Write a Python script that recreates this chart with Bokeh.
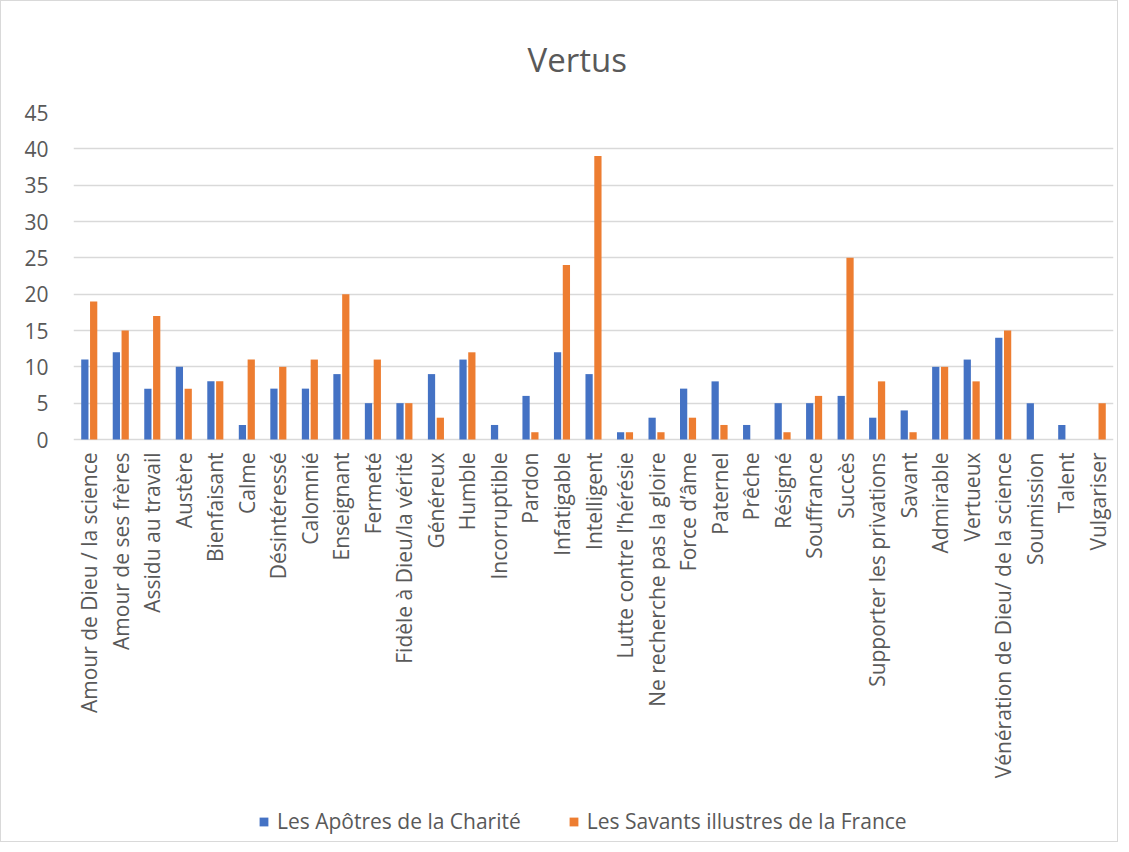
from bokeh.plotting import figure
from bokeh.models import ColumnDataSource, FactorRange, Range1d, Legend, LegendItem, Title
from bokeh.core.properties import value
from bokeh.transform import dodge
from bokeh.embed import file_html
from bokeh.resources import INLINE
import math

categories = [
    "Amour de Dieu / la science", "Amour de ses frères", "Assidu au travail", "Austère",
    "Bienfaisant", "Calme", "Désintéressé", "Calomnié", "Enseignant", "Fermeté",
    "Fidèle à Dieu/la vérité", "Généreux", "Humble", "Incorruptible", "Pardon",
    "Infatigable", "Intelligent", "Lutte contre l\u2019hérésie", "Ne recherche pas la gloire",
    "Force d\u2019âme", "Paternel", "Prêche", "Résigné", "Souffrance", "Succès",
    "Supporter les privations", "Savant", "Admirable", "Vertueux",
    "Vénération de Dieu/ de la science", "Soumission", "Talent", "Vulgariser",
]
apotres = [11, 12, 7, 10, 8, 2, 7, 7, 9, 5, 5, 9, 11, 2, 6, 12, 9, 1, 3, 7, 8, 2, 5, 5, 6, 3, 4, 10, 11, 14, 5, 2, 0]
savants = [19, 15, 17, 7, 8, 11, 10, 11, 20, 11, 5, 3, 12, 0, 1, 24, 39, 1, 1, 3, 2, 0, 1, 6, 25, 8, 1, 10, 8, 15, 0, 0, 5]
series_names = ["Les Apôtres de la Charité", "Les Savants illustres de la France"]
y_ticks = [0, 5, 10, 15, 20, 25, 30, 35, 40, 45]

BLUE = "#4472C4"
ORANGE = "#ED7D31"
GREY = "#595959"
GRID = "#D9D9D9"
FONT = "Open Sans"

# layout (pixels)
W, H = 1118, 842
TOP = 111            # space above the value area
BARS_H = 327         # height of the 0..45 value area
LABEL_GAP = 13       # gap between baseline and category labels
Y_MAX = 45
below_px = H - TOP - BARS_H
y_min = -Y_MAX * below_px / BARS_H
label_y = -Y_MAX * LABEL_GAP / BARS_H

source = ColumnDataSource(data=dict(cat=categories, a=apotres, s=savants,
                                    ly=[label_y] * len(categories)))

p = figure(
    x_range=FactorRange(*categories, range_padding=0),
    y_range=Range1d(y_min, Y_MAX),
    width=W, height=H,
    output_backend="svg", toolbar_location=None,
    min_border_left=72, min_border_right=6, min_border_top=TOP, min_border_bottom=0,
)
p.title = Title(text="Vertus", align="left", offset=454, text_font=FONT, text_font_size="33px",
                text_font_style="normal", text_color=GREY, standoff=61)

r1 = p.vbar(x=dodge("cat", -0.14, range=p.x_range), top="a", bottom=0, width=0.23, source=source,
            fill_color=BLUE, line_color=None)
r2 = p.vbar(x=dodge("cat", 0.14, range=p.x_range), top="s", bottom=0, width=0.23, source=source,
            fill_color=ORANGE, line_color=None)

p.text(x="cat", y="ly", text="cat", source=source, angle=math.pi / 2,
       text_align="right", text_baseline="middle", text_font=value(FONT),
       text_font_size="21px", text_color=GREY)

p.outline_line_color = None
p.styles = {"border": "1px solid #D9D9D9"}

p.xaxis.visible = False
p.xgrid.grid_line_color = None
p.ygrid.ticker = y_ticks
p.ygrid.grid_line_color = GRID
p.ygrid.grid_line_width = 1.3
p.yaxis.ticker = y_ticks
p.yaxis.axis_line_color = None
p.yaxis.major_tick_line_color = None
p.yaxis.minor_tick_line_color = None
p.yaxis.major_label_text_font = FONT
p.yaxis.major_label_text_font_size = "21px"
p.yaxis.major_label_text_color = GREY
p.yaxis.major_label_standoff = 19

legend = Legend(
    items=[LegendItem(label=series_names[0], renderers=[r1]),
           LegendItem(label=series_names[1], renderers=[r2])],
    orientation="horizontal", location=(185, 8),
    label_text_font=FONT, label_text_font_size="21px", label_text_color=GREY,
    glyph_width=11, glyph_height=11, label_standoff=8, spacing=47, label_height=22,
    border_line_color=None, background_fill_alpha=0, margin=0, padding=0,
)
p.add_layout(legend, "center")

open("out.html", "w").write(file_html(p, INLINE))
